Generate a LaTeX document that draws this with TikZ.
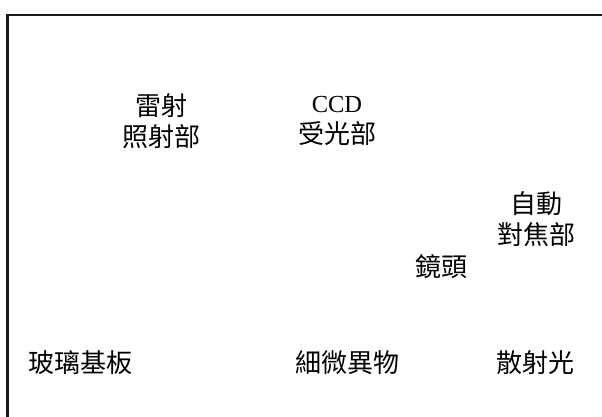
\documentclass[tikz,border=0pt]{standalone}
\usepackage{fontspec}
\setmainfont{Liberation Serif}
\newfontfamily\cjk{Noto Sans CJK TC}
\begin{document}
\begin{tikzpicture}[x=1pt,y=-1pt,
  lbl/.style={inner sep=0pt, align=center, font=\cjk\fontsize{26}{31}\selectfont},
  frame/.style={line width=2.2pt, draw=black!90}]
\useasboundingbox (0,0) rectangle (602,417);
\coordinate (tr) at (602,15);
\coordinate (tl) at (7.5,15);
\coordinate (bl) at (7.5,417);
\draw[frame] (tr) -- (tl) -- (bl);
\node[lbl] (laser) at (161,121) {雷射\\照射部};
\node[lbl] (ccd) at (337,121) {{\rmfamily\fontsize{24.5}{31}\selectfont CCD}\\受光部};
\node[lbl] (af) at (536,219.5) {自動\\對焦部};
\node[lbl] (lens) at (441,267) {鏡頭};
\node[lbl] (glass) at (80,363) {玻璃基板};
\node[lbl] (particle) at (347,363) {細微異物};
\node[lbl] (scatter) at (535,363) {散射光};
\end{tikzpicture}
\end{document}
